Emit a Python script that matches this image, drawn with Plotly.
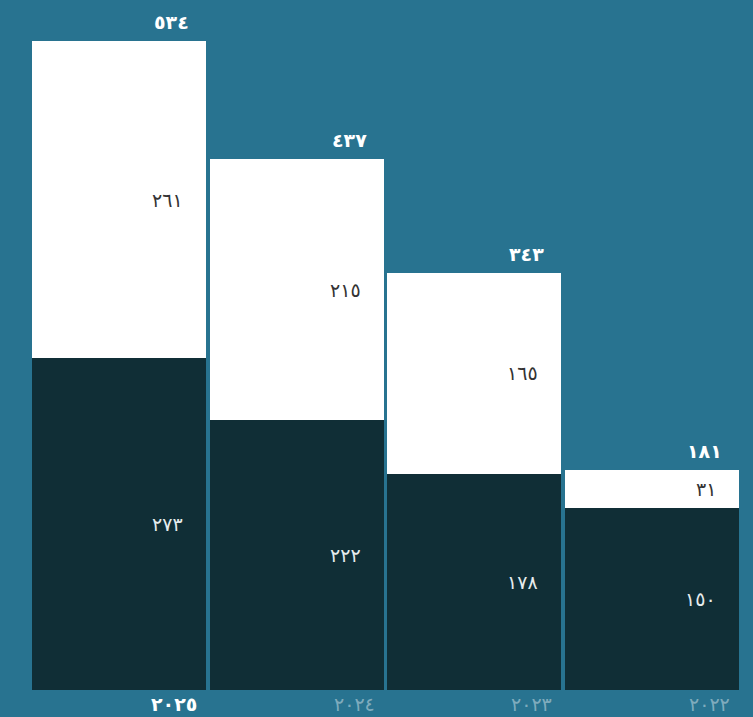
import plotly.graph_objects as go

years = ["٢٠٢٥", "٢٠٢٤", "٢٠٢٣", "٢٠٢٢"]
bottom_vals = [273, 222, 178, 150]
top_vals = [261, 215, 165, 31]
bottom_labels = ["٢٧٣", "٢٢٢", "١٧٨", "١٥٠"]
top_labels = ["٢٦١", "٢١٥", "١٦٥", "٣١"]
total_labels = ["٥٣٤", "٤٣٧", "٣٤٣", "١٨١"]

BG = "#287390"
DARK = "#102e36"
FONT = "DejaVu Sans"
GAP = 0.0207

xs = list(range(len(years)))
totals = [b + t for b, t in zip(bottom_vals, top_vals)]

fig = go.Figure()
fig.add_trace(go.Bar(x=xs, y=bottom_vals, marker=dict(color=DARK, line=dict(width=0)),
                     hoverinfo="skip"))
fig.add_trace(go.Bar(x=xs, y=top_vals, marker=dict(color="#ffffff", line=dict(width=0)),
                     hoverinfo="skip"))

half = (1 - GAP) / 2
ann = []
for i in xs:
    xr = i + half
    ann.append(dict(x=xr, y=bottom_vals[i] / 2, xref="x", yref="y", text=bottom_labels[i],
                    xanchor="right", yanchor="middle", xshift=-21, showarrow=False,
                    font=dict(family=FONT, size=19, color="#e6ecee")))
    ann.append(dict(x=xr, y=bottom_vals[i] + top_vals[i] / 2, xref="x", yref="y",
                    text=top_labels[i], xanchor="right", yanchor="middle", xshift=-21,
                    showarrow=False, font=dict(family=FONT, size=19, color="#333333")))
    ann.append(dict(x=xr, y=totals[i], xref="x", yref="y", text="<b>" + total_labels[i] + "</b>",
                    xanchor="right", yanchor="middle", xshift=-15, yshift=19, showarrow=False,
                    font=dict(family=FONT, size=19, color="#ffffff")))
    if i == 0:
        txt = "<b>" + years[i] + "</b>"
        col = "#ffffff"
    else:
        txt = years[i]
        col = "rgba(255,255,255,0.42)"
    ann.append(dict(x=xr, y=0, xref="x", yref="paper", text=txt,
                    xanchor="right", yanchor="middle", xshift=-7, yshift=-14, showarrow=False,
                    font=dict(family=FONT, size=19, color=col)))

fig.update_layout(
    barmode="stack",
    bargap=GAP,
    width=753, height=717,
    margin=dict(l=30, r=12, t=41, b=27, pad=0),
    paper_bgcolor=BG, plot_bgcolor=BG,
    showlegend=False,
    xaxis=dict(range=[-0.5, 3.5], showticklabels=False, showgrid=False, zeroline=False,
               fixedrange=True),
    yaxis=dict(range=[0, 534], showticklabels=False, showgrid=False, zeroline=False,
               fixedrange=True),
    annotations=ann,
)

fig.write_html("out.html", config={"displayModeBar": False},
               post_script="document.body.style.margin='0';document.body.style.overflow='hidden';")
